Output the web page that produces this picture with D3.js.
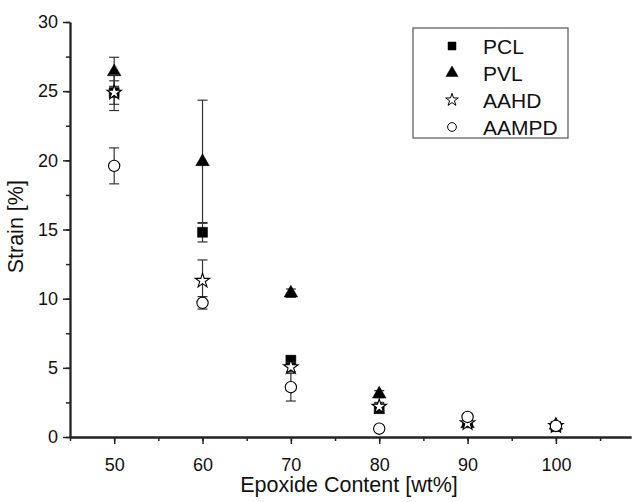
<!DOCTYPE html>
<html>
<head>
<meta charset="utf-8">
<script src="https://cdn.jsdelivr.net/npm/d3@7"></script>
<style>
  body { margin: 0; background: #fff; }
  svg text { font-family: "Liberation Sans", Arial, sans-serif; fill: #111; }
</style>
</head>
<body>
<div id="chart"></div>
<script>
// epoxide content [wt%]
const epoxide = [50, 60, 70, 80, 90, 100]

// strain [%] per series, with error (+/-)
const pclStrain = [24.9, 14.8, 5.55, 2.05, 1.1, 0.75]
const pclErr = [0.85, 0.7, 0.3, 0.3, 0.2, 0.15]
const pvlStrain = [26.4, 19.9, 10.4, 3.1, 0.95, 0.85]
const pvlErr = [1.05, 4.45, 0.3, 0.25, 0.2, 0.15]
const aahdStrain = [24.9, 11.3, 5.05, 2.2, 1.0, 0.8]
const aahdErr = [1.3, 1.5, 0.35, 0.3, 0.3, 0.2]
const aampdStrain = [19.6, 9.7, 3.6, 0.6, 1.45, 0.8]
const aampdErr = [1.3, 0.45, 1.0, 0.15, 0.25, 0.2]

const seriesNames = ["PCL", "PVL", "AAHD", "AAMPD"]
const xTicks = [50, 60, 70, 80, 90, 100]
const yTicks = [0, 5, 10, 15, 20, 25, 30]

const width = 632
const height = 502
const margin = { top: 22, right: 1, bottom: 65, left: 70 }

const series = [
  { name: "PCL", values: pclStrain, err: pclErr, symbol: d3.symbolSquare, size: 100, fill: "#000" },
  { name: "PVL", values: pvlStrain, err: pvlErr, symbol: d3.symbolTriangle, size: 80, fill: "#000" },
  { name: "AAHD", values: aahdStrain, err: aahdErr, symbol: d3.symbolStar, size: 65, fill: "#fff" },
  { name: "AAMPD", values: aampdStrain, err: aampdErr, symbol: d3.symbolCircle, size: 100, fill: "#fff" }
]

const svg = d3.select("#chart").append("svg")
    .attr("width", width)
    .attr("height", height)

const xScale = d3.scaleLinear()
  .domain([45, 108.5])
  .range([margin.left, width - margin.right])

const yScale = d3.scaleLinear()
  .domain([0, 30])
  .range([height - margin.bottom, margin.top])

// minor ticks
svg.append("g")
    .attr("transform", `translate(0,${yScale(0)})`)
    .call(d3.axisBottom(xScale).tickValues(d3.range(45, 106, 5)).tickSize(4).tickFormat("").tickSizeOuter(0))
svg.append("g")
    .attr("transform", `translate(${xScale(45)},0)`)
    .call(d3.axisLeft(yScale).tickValues(d3.range(0, 30.1, 2.5)).tickSize(4).tickFormat("").tickSizeOuter(0))

// major axes
svg.append("g")
    .attr("transform", `translate(0,${yScale(0)})`)
    .call(d3.axisBottom(xScale).tickValues(xTicks).tickSize(7).tickSizeOuter(0).tickPadding(14))
svg.append("g")
    .attr("transform", `translate(${xScale(45)},0)`)
    .call(d3.axisLeft(yScale).tickValues(yTicks).tickSize(7).tickSizeOuter(0).tickPadding(5))

svg.selectAll(".domain").attr("stroke", "#222").attr("stroke-width", 1.8)
svg.selectAll(".tick line").attr("stroke", "#222").attr("stroke-width", 1.5)
svg.selectAll(".tick text")
    .attr("font-size", 18)
    .attr("font-family", "Liberation Sans, Arial, sans-serif")
    .attr("fill", "#111")

svg.append("text")
    .attr("x", 349)
    .attr("y", 492)
    .attr("text-anchor", "middle")
    .attr("font-size", 21.5)
    .text("Epoxide Content [wt%]")

svg.append("text")
    .attr("transform", `translate(23,${yScale(15.2)}) rotate(-90)`)
    .attr("text-anchor", "middle")
    .attr("font-size", 21.5)
    .text("Strain [%]")

// error bars + markers
const plot = svg.append("g")
series.forEach(s => {
  const g = plot.append("g").attr("class", "series-" + s.name)
  const rows = epoxide.map((x, i) => ({ x, y: s.values[i], e: s.err[i] }))
  const bars = g.selectAll(".err").data(rows).join("g").attr("class", "err")
  bars.append("line")
      .attr("x1", d => xScale(d.x)).attr("x2", d => xScale(d.x))
      .attr("y1", d => yScale(d.y - d.e)).attr("y2", d => yScale(d.y + d.e))
  bars.append("line")
      .attr("x1", d => xScale(d.x) - 5).attr("x2", d => xScale(d.x) + 5)
      .attr("y1", d => yScale(d.y + d.e)).attr("y2", d => yScale(d.y + d.e))
  bars.append("line")
      .attr("x1", d => xScale(d.x) - 5).attr("x2", d => xScale(d.x) + 5)
      .attr("y1", d => yScale(d.y - d.e)).attr("y2", d => yScale(d.y - d.e))
  bars.selectAll("line").attr("stroke", "#333").attr("stroke-width", 1.2)

  g.selectAll(".pt").data(rows).join("path")
      .attr("class", "pt")
      .attr("transform", d => `translate(${xScale(d.x)},${yScale(d.y)})`)
      .attr("d", d3.symbol().type(s.symbol).size(s.size))
      .attr("fill", s.fill)
      .attr("stroke", "#000")
      .attr("stroke-width", s.fill === "#000" ? 0.5 : 1.1)
})

// legend
const legend = svg.append("g")
legend.append("rect")
    .attr("x", 413).attr("y", 28)
    .attr("width", 155).attr("height", 110)
    .attr("fill", "#fff")
    .attr("stroke", "#555")
    .attr("stroke-width", 1.2)

const legendSymbolSize = [64, 64, 50, 60]
series.forEach((s, i) => {
  const cy = 46 + i * 27
  legend.append("path")
      .attr("transform", `translate(452,${cy})`)
      .attr("d", d3.symbol().type(s.symbol).size(legendSymbolSize[i]))
      .attr("fill", s.fill)
      .attr("stroke", "#000")
      .attr("stroke-width", s.fill === "#000" ? 0.5 : 1)
  legend.append("text")
      .attr("x", 483)
      .attr("y", cy)
      .attr("dy", "0.36em")
      .attr("font-size", 21)
      .text(seriesNames[i])
})
</script>
</body>
</html>
